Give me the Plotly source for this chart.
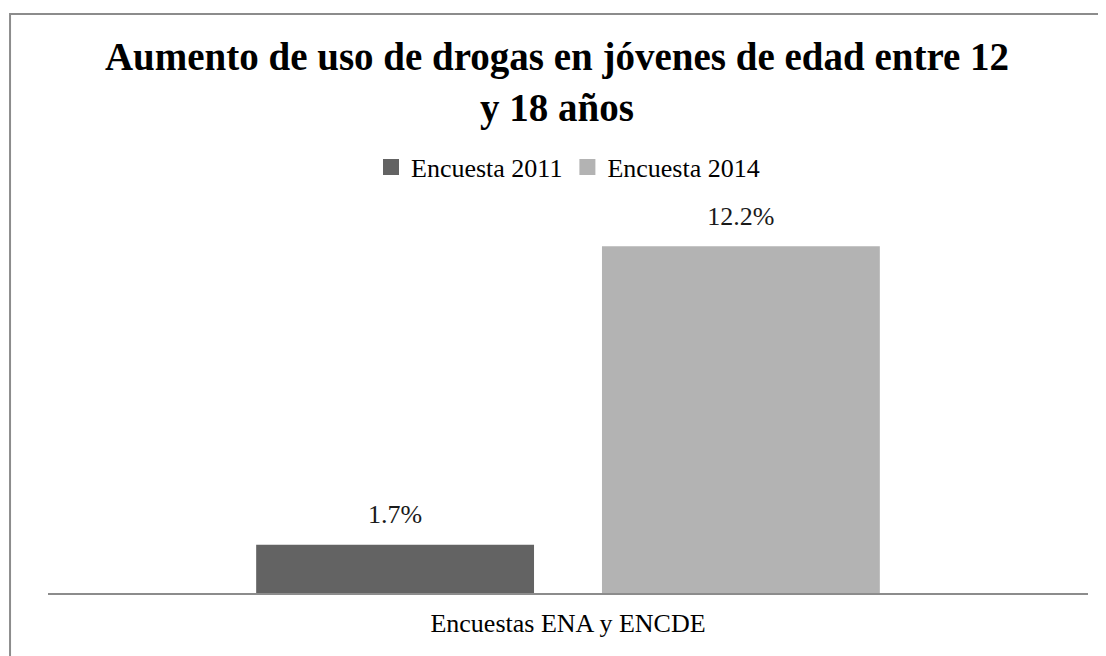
import plotly.graph_objects as go

categories = ["Encuestas ENA y ENCDE"]
series_names = ["Encuesta 2011", "Encuesta 2014"]
values_2011 = [1.7]
values_2014 = [12.2]
colors = ["#636363", "#b3b3b3"]
title_text = "Aumento de uso de drogas en jóvenes de edad entre 12<br>y 18 años"

FONT = "Liberation Serif, Times New Roman, serif"

fig = go.Figure()
for i, (name, vals, col) in enumerate(zip(series_names, [values_2011, values_2014], colors)):
    grp = f"g{i}"
    fig.add_trace(go.Bar(
        x=categories, y=vals, name=name, offsetgroup=grp,
        marker=dict(color=col, line=dict(width=0)),
        showlegend=False, hoverinfo="x+y",
    ))
    # value labels, aligned with the bars through the grouped scatter layout
    fig.add_trace(go.Scatter(
        x=categories, y=vals, name=name, offsetgroup=grp,
        mode="markers+text",
        marker=dict(size=22, color="rgba(0,0,0,0)"),
        text=[f"{v:.1f}%" for v in vals],
        textposition="top center",
        textfont=dict(family=FONT, size=26, color="#1a1a1a"),
        cliponaxis=False, showlegend=False, hoverinfo="skip",
    ))
    fig.add_trace(go.Scatter(
        x=[None], y=[None], name=name, mode="markers",
        marker=dict(symbol="square", size=18, color=col),
        showlegend=True,
    ))

fig.update_layout(
    width=1098, height=648,
    margin=dict(l=40, r=18, t=187, b=63),
    paper_bgcolor="white", plot_bgcolor="white",
    barmode="group", bargap=0.335, bargroupgap=0.1965,
    scattermode="group", scattergap=0.335,
    title=dict(text="<b>" + title_text + "</b>", x=0.5, xanchor="center",
               y=0.904, yanchor="top",
               font=dict(family=FONT, size=39, color="black")),
    legend=dict(orientation="h", x=0.5, xanchor="center", y=1.07, yanchor="middle",
                font=dict(family=FONT, size=26, color="black"),
                traceorder="normal", bgcolor="rgba(0,0,0,0)"),
    font=dict(family=FONT, color="black"),
    showlegend=True,
)
fig.update_xaxes(showline=True, linecolor="#8c8c8c", linewidth=2,
                 ticks="", ticklabelstandoff=6,
                 tickfont=dict(family=FONT, size=26, color="black"),
                 showgrid=False, zeroline=False)
fig.update_yaxes(range=[0, 14], visible=False, showgrid=False, zeroline=False)

fig.add_shape(type="rect", xref="paper", yref="paper",
              x0=-0.0365, x1=1.1, y0=-0.3, y1=1.455,
              line=dict(color="#8c8c8c", width=2), fillcolor="rgba(0,0,0,0)",
              layer="below")

fig.write_html("out.html")
